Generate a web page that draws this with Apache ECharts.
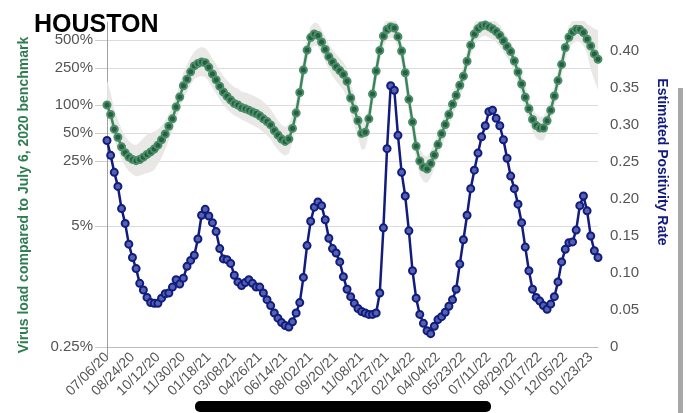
<!DOCTYPE html>
<html>
<head>
<meta charset="utf-8">
<script src="https://cdn.jsdelivr.net/npm/echarts@6/dist/echarts.min.js"></script>
<style>
  html, body { margin: 0; padding: 0; background: #fff; }
  #main { width: 690px; height: 413px; }
</style>
</head>
<body>
<div id="main"></div>
<script>
// weekly samples from 07/06/20
var tickLabels = ['07/06/20', '08/24/20', '10/12/20', '11/30/20', '01/18/21', '03/08/21', '04/26/21',
    '06/14/21', '08/02/21', '09/20/21', '11/08/21', '12/27/21', '02/14/22', '04/04/22', '05/23/22',
    '07/11/22', '08/29/22', '10/17/22', '12/05/22', '01/23/23'];

// virus load, % of the July 6 2020 benchmark
var virusLoad = [100, 79, 55, 45, 35.5, 30.7, 27.6, 26, 25.2, 25.9,
    27.5, 29.4, 31.3, 33.6, 37, 42.3, 48.8, 59, 71, 95,
    122, 161, 189, 227, 263, 280, 290, 285, 254, 215,
    186, 159, 138, 124, 113, 104, 100, 94, 91, 88,
    84, 81, 76.5, 71, 66.5, 61, 53, 47.5, 43, 40.6,
    43, 56, 82, 136, 238, 389, 530, 580, 560, 476,
    396, 331, 290, 257, 235, 213, 180, 119, 90, 68,
    49.5, 51, 71, 131, 232, 385, 552, 647, 690, 673,
    543, 380, 222, 115, 65.5, 36, 25, 21.5, 20.5, 23.5,
    29, 37.5, 49, 61.5, 79, 102, 127, 163, 204, 295,
    440, 580, 658, 707, 722, 695, 660, 617, 560, 490,
    425, 375, 297, 226, 168, 121, 91, 70, 60, 56.6,
    56.6, 67.5, 88, 125, 183, 273, 415, 535, 610, 652,
    648, 600, 510, 430, 354, 310];

// grey band round the virus load
var bandUpper = [185, 135, 90, 70, 55, 46, 41, 38, 37, 40,
    44, 48, 50, 52, 55, 60, 68, 80, 97, 128,
    168, 225, 270, 325, 375, 405, 420, 410, 370, 315,
    275, 235, 205, 185, 168, 155, 150, 140, 136, 132,
    127, 122, 116, 108, 100, 90, 78, 68, 61, 58,
    62, 78, 112, 185, 320, 520, 700, 770, 750, 650,
    545, 455, 395, 350, 320, 290, 250, 170, 128, 96,
    70, 70, 96, 175, 310, 510, 730, 850, 900, 880,
    720, 510, 300, 158, 90, 50, 34, 29, 28, 32,
    39, 50, 65, 81, 104, 134, 166, 212, 265, 380,
    565, 745, 845, 905, 925, 890, 845, 790, 720, 630,
    548, 484, 385, 294, 220, 160, 121, 93, 80, 75,
    75, 89, 116, 164, 240, 358, 545, 705, 810, 870,
    880, 840, 740, 700, 660, 640];
var bandLower = [80, 60, 42, 33, 26, 22, 19.5, 18, 17, 17.5,
    18, 18.5, 19, 20, 23, 27, 33, 42, 52, 70,
    90, 118, 138, 165, 190, 200, 205, 200, 180, 152,
    132, 114, 100, 90, 83, 77, 74, 70, 67, 64,
    61, 58, 55, 51, 47, 43, 37, 33, 30, 28.5,
    30, 40, 60, 100, 175, 290, 400, 440, 425, 360,
    295, 240, 205, 180, 162, 145, 118, 80, 60, 45,
    33, 34, 50, 95, 170, 290, 420, 500, 530, 515,
    410, 280, 160, 82, 46, 25.5, 17.5, 15, 14.5, 16.5,
    21, 27, 35.5, 45, 58, 75, 94, 121, 152, 222,
    332, 440, 500, 540, 555, 530, 505, 470, 425, 372,
    322, 284, 224, 170, 126, 90, 67, 52, 44, 41.5,
    41.5, 50, 65, 93, 136, 203, 310, 400, 455, 485,
    478, 435, 360, 240, 185, 145];

// estimated positivity rate
var positivity = [0.279, 0.259, 0.236, 0.217, 0.187, 0.167, 0.139, 0.121, 0.106, 0.086,
    0.077, 0.067, 0.060, 0.059, 0.059, 0.066, 0.072, 0.073, 0.081, 0.091,
    0.085, 0.093, 0.109, 0.117, 0.124, 0.146, 0.178, 0.186, 0.177, 0.168,
    0.156, 0.133, 0.119, 0.118, 0.113, 0.097, 0.088, 0.083, 0.087, 0.091,
    0.086, 0.081, 0.081, 0.073, 0.064, 0.056, 0.046, 0.039, 0.033, 0.029,
    0.027, 0.034, 0.046, 0.060, 0.094, 0.137, 0.170, 0.189, 0.196, 0.191,
    0.172, 0.147, 0.133, 0.127, 0.115, 0.095, 0.078, 0.068, 0.059, 0.052,
    0.048, 0.046, 0.044, 0.044, 0.046, 0.073, 0.161, 0.268, 0.353, 0.347,
    0.286, 0.236, 0.204, 0.157, 0.103, 0.066, 0.044, 0.032, 0.022, 0.018,
    0.028, 0.037, 0.041, 0.047, 0.055, 0.064, 0.078, 0.112, 0.145, 0.178,
    0.214, 0.239, 0.262, 0.284, 0.299, 0.318, 0.320, 0.309, 0.299, 0.280,
    0.255, 0.231, 0.214, 0.193, 0.168, 0.135, 0.103, 0.078, 0.067, 0.062,
    0.056, 0.051, 0.058, 0.068, 0.088, 0.115, 0.132, 0.141, 0.142, 0.158,
    0.191, 0.204, 0.184, 0.150, 0.130, 0.121];

var loadTicks = [0.25, 5, 25, 50, 100, 250, 500];
var rateTicks = [0, 0.05, 0.10, 0.15, 0.20, 0.25, 0.30, 0.35, 0.40];

function pad(n) { return (n < 10 ? '0' : '') + n; }
var dates = [];
var d0 = Date.UTC(2020, 6, 6);
for (var i = 0; i < virusLoad.length; i++) {
    var d = new Date(d0 + i * 7 * 86400000);
    dates.push(pad(d.getUTCMonth() + 1) + '/' + pad(d.getUTCDate()) + '/' + String(d.getUTCFullYear()).slice(2));
}
var bandSpan = bandUpper.map(function (u, i) { return u - bandLower[i]; });

var green = '#3b8460';
var navy = '#121b7e';
var font = '"Liberation Sans", Arial, sans-serif';

var myChart = echarts.init(document.getElementById('main'));
var option = {
    animation: false,
    backgroundColor: '#fff',
    title: {
        text: 'HOUSTON',
        left: 29,
        top: 8,
        textStyle: { fontSize: 25, fontWeight: 'bold', color: '#000', fontFamily: font }
    },
    grid: { left: 107, right: 92, top: 22, bottom: 66 },
    xAxis: {
        type: 'category',
        data: dates,
        boundaryGap: false,
        axisLine: { lineStyle: { color: '#bbb' } },
        axisTick: {
            show: true,
            length: 10,
            interval: function (idx) { return idx === 0; },
            lineStyle: { color: '#999' }
        },
        axisLabel: {
            rotate: 45,
            margin: 8,
            fontSize: 14,
            color: '#555',
            fontFamily: font,
            interval: function (idx, val) { return tickLabels.indexOf(val) >= 0; }
        },
        splitLine: { show: false }
    },
    yAxis: [{
        type: 'log',
        logBase: 10,
        min: 0.25,
        max: 780,
        axisLine: { show: true, lineStyle: { color: '#a0a0a0' } },
        axisTick: { show: true, length: 12, customValues: loadTicks, lineStyle: { color: '#ccc' } },
        axisLabel: {
            customValues: loadTicks,
            margin: 14,
            fontSize: 15,
            color: '#555',
            fontFamily: font,
            formatter: function (v) { return v + '%'; }
        },
        splitLine: { show: true, customValues: loadTicks, lineStyle: { color: '#dcdcdc' } }
    }, {
        type: 'value',
        position: 'right',
        min: 0,
        max: 0.4392,
        axisLine: { show: false },
        axisTick: { show: false },
        splitLine: { show: false },
        axisLabel: {
            customValues: rateTicks,
            margin: 12,
            fontSize: 15,
            color: '#555',
            fontFamily: font,
            formatter: function (v) { return v === 0 ? '0' : v.toFixed(2); }
        }
    }],
    series: [{
        name: 'bandLow',
        type: 'line',
        data: bandLower,
        stack: 'ci',
        symbol: 'none',
        silent: true,
        lineStyle: { opacity: 0 },
        z: 1
    }, {
        name: 'bandSpan',
        type: 'line',
        data: bandSpan,
        stack: 'ci',
        symbol: 'none',
        silent: true,
        lineStyle: { opacity: 0 },
        areaStyle: { color: '#e8e6e3', opacity: 0.9 },
        z: 1
    }, {
        name: 'Virus load',
        type: 'line',
        data: virusLoad,
        symbol: 'circle',
        symbolSize: 7,
        showAllSymbol: true,
        lineStyle: { color: green, width: 2.5 },
        itemStyle: { color: '#275f41', borderColor: '#4a8f69', borderWidth: 2 },
        z: 3
    }, {
        name: 'Positivity',
        type: 'line',
        yAxisIndex: 1,
        data: positivity,
        symbol: 'circle',
        symbolSize: 7,
        showAllSymbol: true,
        lineStyle: { color: navy, width: 2.5 },
        itemStyle: { color: '#5463b0', borderColor: navy, borderWidth: 2 },
        z: 4
    }],
    graphic: [{
        type: 'text',
        x: 24,
        y: 195,
        rotation: Math.PI / 2,
        style: {
            text: 'Virus load compared to July 6, 2020 benchmark',
            fill: '#2e7d4f',
            font: 'bold 14px ' + font,
            align: 'center',
            verticalAlign: 'middle'
        }
    }, {
        type: 'text',
        x: 662,
        y: 162,
        rotation: -Math.PI / 2,
        style: {
            text: 'Estimated Positivity Rate',
            fill: navy,
            font: 'bold 14px ' + font,
            align: 'center',
            verticalAlign: 'middle'
        }
    }, {
        type: 'rect',
        shape: { x: 678, y: 88, width: 5, height: 330 },
        style: { fill: '#a8a8a8' },
        z: 100
    }, {
        type: 'rect',
        shape: { x: 195, y: 401, width: 296, height: 11, r: 5 },
        style: { fill: '#000' },
        z: 100
    }]
};
myChart.setOption(option);
</script>
</body>
</html>
